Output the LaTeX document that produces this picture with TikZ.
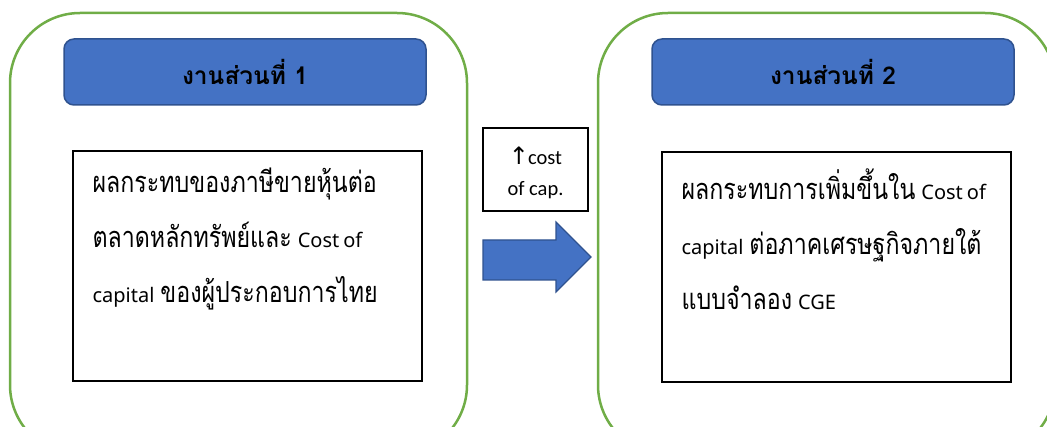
\documentclass[tikz,border=0pt]{standalone}
\usepackage{fontspec}
\usetikzlibrary{positioning}
\newfontfamily\thaifont[Script=Thai,FakeStretch=0.8]{Loma}
\newfontfamily\thaihead[Script=Thai]{Loma}
\newfontfamily\latinfont{Noto Sans}
\newfontfamily\capfont{Carlito}
\newfontfamily\symfont{DejaVu Sans}
\definecolor{framegreen}{RGB}{112,173,71}
\definecolor{headblue}{RGB}{68,114,196}
\definecolor{headedge}{RGB}{47,82,143}
\newcommand{\en}[1]{{\latinfont\fontsize{20}{55}\selectfont #1}}
\newcommand{\gap}{\hspace{6pt}}
\tikzset{
  frame/.style={draw=framegreen, line width=2.5pt, rounded corners=70pt},
  header/.style={rectangle, rounded corners=10pt, fill=headblue, draw=headedge, line width=1.5pt,
    minimum width=362pt, minimum height=66pt, font=\thaihead\bfseries\fontsize{24.5}{28}\selectfont},
  bodybox/.style={rectangle, draw=black, line width=1.2pt, minimum width=349pt, minimum height=230pt},
  bodytext/.style={anchor=north west, inner sep=0pt, align=left, text width=330pt,
    font=\thaifont\fontsize{29}{55}\selectfont},
  capbox/.style={rectangle, draw=black, line width=1.2pt, minimum width=105pt, minimum height=83pt},
  captext/.style={align=center, inner sep=0pt, font=\capfont\fontsize{20.5}{31}\selectfont}
}
\begin{document}
\begin{tikzpicture}[x=1pt, y=-1pt]
    \clip (0,0) rectangle (1047,427);
    \draw[frame] (10,13) rectangle (467,455);
    \draw[frame] (598,13) rectangle (1055,455);

    \node(head1)[header] at (245,72) {งานส่วนที่ 1};
    \node(head2)[header] at (833,72) {งานส่วนที่ 2};

    \node(body1)[bodybox] at (247.5,266) {};
    \node(body2)[bodybox] at (836.5,267) {};

    \node(text1)[bodytext] at ([shift={(20,17)}]body1.north west)
      {ผลกระทบของภาษีขายหุ้นต่อ\\ตลาดหลักทรัพย์และ\gap\en{Cost\hspace{4pt}of}\\\en{capital}\gap ของผู้ประกอบการไทย};
    \node(text2)[bodytext] at ([shift={(20,17)}]body2.north west)
      {ผลกระทบการเพิ่มขึ้นใน\gap\en{Cost\hspace{4pt}of}\\\en{capital}\gap ต่อภาคเศรษฐกิจภายใต้\\แบบจำลอง\gap\en{CGE}};

    \node(cap)[capbox] at (535.5,169.5) {};
    \node(captext)[captext, yshift=-3pt] at (cap.center)
      {{\symfont\fontsize{24}{31}\selectfont ↑}\hspace{-1pt}cost\\of cap.};

    \draw[fill=headblue, draw=headedge, line width=1.2pt]
      (483,240) -- (556,240) -- (556,222) -- (591,257) -- (556,292) -- (556,280) -- (483,280) -- cycle;
  \end{tikzpicture}
\end{document}
